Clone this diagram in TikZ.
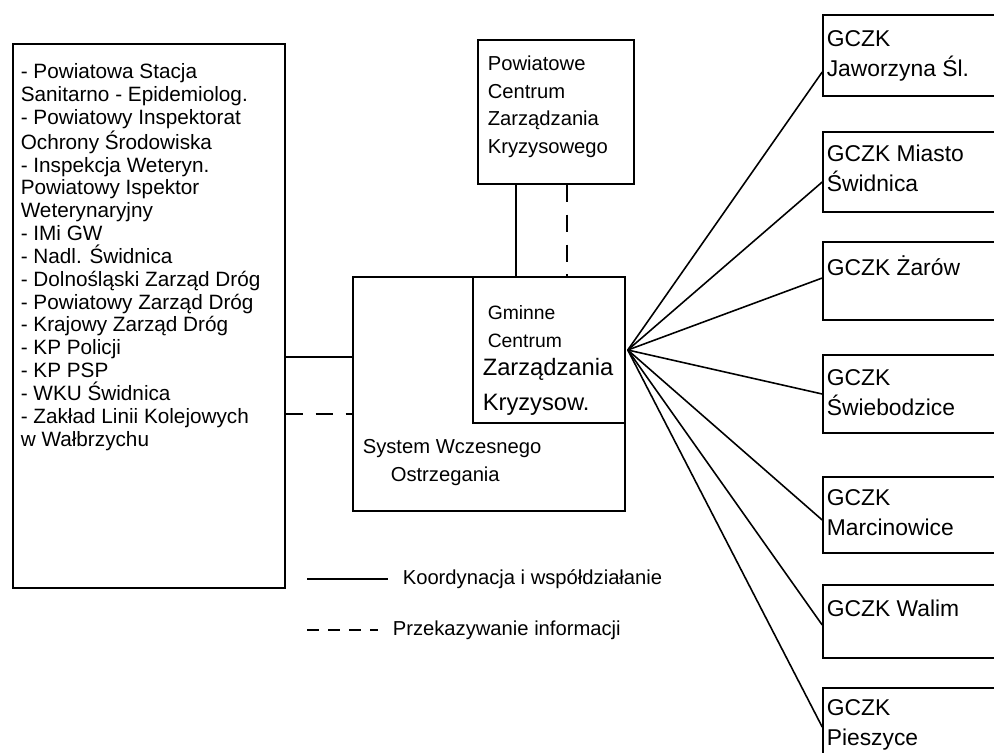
\documentclass[tikz,border=0pt]{standalone}
\usepackage{fontspec}
\setmainfont{Liberation Sans}
\usepackage{tikz}

\begin{document}
\begin{tikzpicture}[x=0.02cm,y=-0.02cm,line width=0.9pt,
		box/.style={draw,rectangle,inner sep=0pt},
		txt/.style={anchor=north west,align=left,inner sep=0pt,font=\fontsize{11.5}{13}\selectfont},
		gczk/.style={anchor=north west,align=left,inner sep=0pt,font=\fontsize{13}{17}\selectfont},
		info/.style={dash pattern=on 10pt off 7pt}]

			\useasboundingbox (0,0) rectangle (994,752);
			\clip (0,0) rectangle (994,752);

			% Boxes
			\node[box,minimum width=5.44cm,minimum height=10.88cm] (Lbox) at (149,316) {};
			\node[box,minimum width=3.12cm,minimum height=2.88cm] (PCZK) at (556,112) {};
			\node[box,minimum width=5.44cm,minimum height=4.68cm] (SWO) at (489,394) {};
			\node[box,minimum width=3.04cm,minimum height=2.92cm] (GCZK) at (549,350) {};

			\node[box,minimum width=3.74cm,minimum height=1.62cm] (R1) at (916.5,55.5) {};
			\node[box,minimum width=3.74cm,minimum height=1.60cm] (R2) at (916.5,172) {};
			\node[box,minimum width=3.74cm,minimum height=1.56cm] (R3) at (916.5,281) {};
			\node[box,minimum width=3.74cm,minimum height=1.56cm] (R4) at (916.5,394) {};
			\node[box,minimum width=3.74cm,minimum height=1.52cm] (R5) at (916.5,515) {};
			\node[box,minimum width=3.74cm,minimum height=1.46cm] (R6) at (916.5,621.5) {};
			\node[box,minimum width=3.74cm,minimum height=1.64cm] (R7) at (916.5,729) {};

			% Texts
			\node[txt,font=\fontsize{11.8}{13}\selectfont] (Ltxt) at (20,63) {- Powiatowa Stacja\\Sanitarno - Epidemiolog.\\- Powiatowy Inspektorat\\Ochrony Środowiska\\- Inspekcja Weteryn.\\Powiatowy Ispektor\\Weterynaryjny\\- IMi GW\\- Nadl. Świdnica\\- Dolnośląski Zarząd Dróg\\- Powiatowy Zarząd Dróg\\- Krajowy Zarząd Dróg\\- KP Policji\\- KP PSP\\- WKU Świdnica\\- Zakład Linii Kolejowych\\w Wałbrzychu};
			\node[txt,font=\fontsize{11.5}{15.7}\selectfont] (Ptxt) at (487,55) {Powiatowe\\Centrum\\Zarządzania\\Kryzysowego};
			\node[txt,font=\fontsize{11}{15.9}\selectfont] (Gtxt) at (487,305) {Gminne\\Centrum};
			\node[txt,font=\fontsize{13.5}{19.8}\selectfont] (Ztxt) at (482,358) {Zarządzania\\Kryzysow.};
			\node[txt,font=\fontsize{11.5}{15.9}\selectfont] (Stxt) at (362,439) {System Wczesnego\\\hspace*{0.56cm}Ostrzegania};

			\node[gczk] (T1) at (826,30) {GCZK\\Jaworzyna Śl.};
			\node[gczk] (T2) at (826,144) {GCZK Miasto\\Świdnica};
			\node[gczk] (T3) at (826,255) {GCZK Żarów};
			\node[gczk] (T4) at (826,369) {GCZK\\Świebodzice};
			\node[gczk] (T5) at (826,489) {GCZK\\Marcinowice};
			\node[gczk] (T6) at (826,599) {GCZK Walim};
			\node[gczk] (T7) at (826,699) {GCZK\\Pieszyce};

			% Links between boxes
			\coordinate (k1) at ([yshift=0.74cm]SWO.west);
			\coordinate (k2) at ([yshift=-0.4cm]SWO.west);
			\draw (Lbox.east |- k1) -- (k1);
			\draw[info] (Lbox.east |- k2) -- (k2);

			\coordinate (p1) at ([xshift=-0.8cm]PCZK.south);
			\coordinate (p2) at ([xshift=0.22cm]PCZK.south);
			\draw (p1) -- (p1 |- GCZK.north);
			\draw[info] (p2) -- (p2 |- GCZK.north);

			% Rays to the GCZK boxes
			\coordinate (hub) at ([xshift=0.04cm]GCZK.east);
			\draw (hub) -- ([yshift=-0.33cm]R1.west);
			\draw (hub) -- ([yshift=-0.2cm]R2.west);
			\draw (hub) -- ([yshift=0.06cm]R3.west);
			\draw (hub) -- (R4.west);
			\draw (hub) -- ([yshift=-0.1cm]R5.west);
			\draw (hub) -- ([yshift=-0.07cm]R6.west);
			\draw (hub) -- ([yshift=0.04cm]R7.west);

			% Legend
			\coordinate (L1a) at (307,579);
			\coordinate (L1b) at (388,579);
			\coordinate (L2a) at (307,630);
			\coordinate (L2b) at (378,630);
			\draw (L1a) -- (L1b);
			\draw[dash pattern=on 7pt off 5pt] (L2a) -- (L2b);
			\node[txt,anchor=west] (leg1) at (402,579) {Koordynacja i współdziałanie};
			\node[txt,anchor=west] (leg2) at (392,630) {Przekazywanie informacji};

		\end{tikzpicture}
\end{document}
